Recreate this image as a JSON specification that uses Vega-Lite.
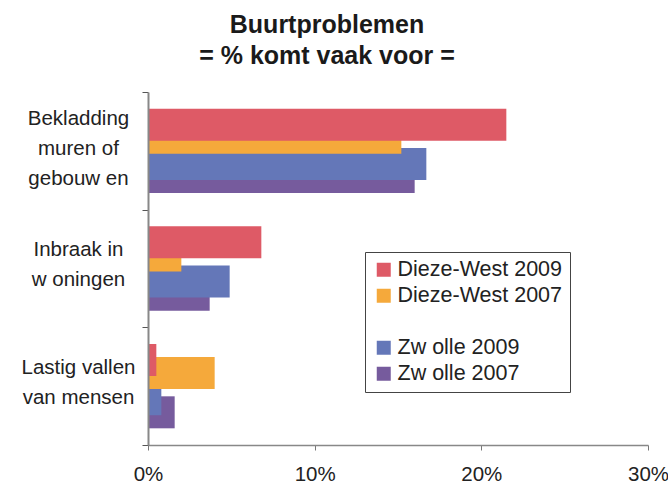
{
  "$schema": "https://vega.github.io/schema/vega-lite/v6.json",
  "width": 500,
  "height": 353,
  "autosize": {"type": "none"},
  "padding": {"left": 148, "top": 92, "right": 20, "bottom": 39},
  "background": "white",
  "title": {
    "text": ["Buurtproblemen", "= % komt vaak voor ="],
    "font": "Liberation Sans",
    "fontSize": 25,
    "fontWeight": "bold",
    "color": "#1a1a1a",
    "lineHeight": 31,
    "anchor": "middle",
    "dx": -71,
    "offset": 13
  },
  "data": {
    "values": [
      {"cat": "Bekladding|muren of|gebouw en", "series": "Zw olle 2007", "value": 16.0},
      {"cat": "Bekladding|muren of|gebouw en", "series": "Zw olle 2009", "value": 16.7},
      {"cat": "Bekladding|muren of|gebouw en", "series": "Dieze-West 2007", "value": 15.2},
      {"cat": "Bekladding|muren of|gebouw en", "series": "Dieze-West 2009", "value": 21.5},
      {"cat": "Inbraak in|w oningen", "series": "Zw olle 2007", "value": 3.7},
      {"cat": "Inbraak in|w oningen", "series": "Zw olle 2009", "value": 4.9},
      {"cat": "Inbraak in|w oningen", "series": "Dieze-West 2007", "value": 2.0},
      {"cat": "Inbraak in|w oningen", "series": "Dieze-West 2009", "value": 6.8},
      {"cat": "Lastig vallen|van mensen", "series": "Zw olle 2007", "value": 1.6},
      {"cat": "Lastig vallen|van mensen", "series": "Zw olle 2009", "value": 0.8},
      {"cat": "Lastig vallen|van mensen", "series": "Dieze-West 2007", "value": 4.0},
      {"cat": "Lastig vallen|van mensen", "series": "Dieze-West 2009", "value": 0.5}
    ]
  },
  "mark": {"type": "bar", "height": 32},
  "encoding": {
    "y": {
      "field": "cat",
      "type": "nominal",
      "sort": null,
      "scale": {"domain": ["Bekladding|muren of|gebouw en", "Inbraak in|w oningen", "Lastig vallen|van mensen"], "paddingInner": 0, "paddingOuter": 0},
      "axis": {
        "title": null,
        "labelExpr": "split(datum.label, '|')",
        "labelAlign": "center",
        "labelBaseline": "middle",
        "labelPadding": 64,
        "labelLineHeight": 30,
        "labelOffset": {"condition": {"test": "indexof(datum.label, 'Bekladding') >= 0", "value": -32}, "value": -19},
        "labelFont": "Liberation Sans",
        "labelFontSize": 20.5,
        "labelColor": "#222222",
        "labelLimit": 0,
        "tickBand": "extent",
        "tickSize": 6,
        "tickColor": "#555555",
        "domainColor": "#888888",
        "domainWidth": 2,
        "zindex": 1
      }
    },
    "yOffset": {
      "field": "series",
      "type": "nominal",
      "scale": {"domain": ["_a", "_b", "Dieze-West 2009", "Dieze-West 2007", " ", "Zw olle 2009", "Zw olle 2007", "_c", "_d"], "paddingInner": 0, "paddingOuter": 0}
    },
    "x": {
      "field": "value",
      "type": "quantitative",
      "stack": null,
      "scale": {"domain": [0, 30], "nice": false},
      "axis": {
        "title": null,
        "values": [0, 10, 20, 30],
        "labelExpr": "datum.value + '%'",
        "labelFont": "Liberation Sans",
        "labelFontSize": 20.5,
        "labelColor": "#222222",
        "labelPadding": 14,
        "tickSize": 5,
        "tickColor": "#777777",
        "domainColor": "#888888",
        "domainWidth": 1.5,
        "grid": false,
        "labelFlush": false
      }
    },
    "color": {
      "field": "series",
      "type": "nominal",
      "scale": {
        "domain": ["Dieze-West 2009", "Dieze-West 2007", " ", "Zw olle 2009", "Zw olle 2007"],
        "range": ["#DE5A66", "#F5A93B", "#ffffff", "#6477B8", "#765B9D"]
      },
      "legend": {
        "title": null,
        "orient": "none",
        "legendX": 217,
        "legendY": 160,
        "symbolType": "square",
        "symbolSize": 196,
        "symbolStrokeWidth": 0,
        "symbolOffset": 1,
        "labelOffset": 3,
        "labelFont": "Liberation Sans",
        "labelFontSize": 21.5,
        "labelColor": "#222222",
        "labelLimit": 0,
        "rowPadding": 3,
        "padding": 7,
        "strokeColor": "#444444",
        "fillColor": "white"
      }
    }
  },
  "config": {"view": {"stroke": null}}
}
